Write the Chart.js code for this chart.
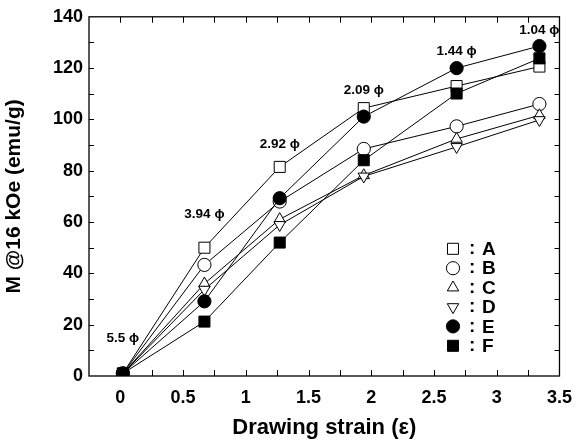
<!DOCTYPE html>
<html>
<head>
<meta charset="utf-8">
<script src="https://cdn.jsdelivr.net/npm/chart.js@4/dist/chart.umd.min.js"></script>
<style>
  body { margin: 0; background: #fff; }
  #wrap { width: 583px; height: 443px; }
</style>
</head>
<body>
<div id="wrap"><canvas id="magChart" width="583" height="443"></canvas></div>
<script>
// drawing strain values (x) shared by every sample
const strain = [0.02, 0.67, 1.27, 1.94, 2.68, 3.34];

// M @16 kOe for each sample (emu/g)
const seriesA = [1, 50, 81.5, 104.4, 113, 120.6];
const seriesB = [1, 43.3, 68, 88.5, 97.3, 106];
const seriesC = [1, 36, 61.1, 78.2, 92.4, 101.6];
const seriesD = [1, 33.7, 58.9, 77.8, 89.3, 99.8];
const seriesE = [1, 29.1, 69.3, 101.1, 120, 128.6];
const seriesF = [1, 21.2, 52, 84.1, 110.1, 123.8];

const sampleNames = ['A', 'B', 'C', 'D', 'E', 'F'];

// wire diameter labels written above each strain step, and the height they sit at
const phiLabels = ['5.5 \u03d5', '3.94 \u03d5', '2.92 \u03d5', '2.09 \u03d5', '1.44 \u03d5', '1.04 \u03d5'];
const phiLabelY = [14.7, 63, 90.5, 111.5, 126.4, 134.8];

const xTicks = [0, 0.5, 1, 1.5, 2, 2.5, 3, 3.5];
const yTicks = [0, 20, 40, 60, 80, 100, 120, 140];

const FONT = '"Liberation Sans", Arial, sans-serif';

function toPoints(vals) {
    return vals.map((v, i) => ({ x: strain[i], y: v }));
}

function makeSet(label, vals, style, filled, rotation, order) {
    return {
        label: label,
        data: toPoints(vals),
        borderColor: '#000',
        borderWidth: 1,
        pointStyle: style,
        pointRotation: rotation || 0,
        pointRadius: style === 'rect' ? 7.8 : 6.6,
        pointBorderWidth: 1,
        pointBorderColor: '#000',
        pointBackgroundColor: filled ? '#000' : '#fff',
        showLine: true,
        tension: 0,
        order: order
    };
}

// later samples drawn on top, like the original
const datasets = [
    makeSet(sampleNames[0], seriesA, 'rect', false, 0, 5),
    makeSet(sampleNames[1], seriesB, 'circle', false, 0, 4),
    makeSet(sampleNames[2], seriesC, 'triangle', false, 0, 3),
    makeSet(sampleNames[3], seriesD, 'triangle', false, 180, 2),
    makeSet(sampleNames[4], seriesE, 'circle', true, 0, 1),
    makeSet(sampleNames[5], seriesF, 'rect', true, 0, 0)
];

// frame, inward tick marks, phi labels and the legend box
const decorations = {
    id: 'decorations',
    afterDatasetsDraw(chart) {
        const ctx = chart.ctx;
        const area = chart.chartArea;
        const xs = chart.scales.x;
        const ys = chart.scales.y;
        ctx.save();
        ctx.strokeStyle = '#000';
        ctx.lineWidth = 1.3;
        ctx.strokeRect(area.left, area.top, area.right - area.left, area.bottom - area.top);

        ctx.lineWidth = 1;
        ctx.beginPath();
        for (let v = 0; v <= 3.5001; v += 0.25) {
            const px = Math.round(xs.getPixelForValue(v)) + 0.5;
            ctx.moveTo(px, area.bottom);
            ctx.lineTo(px, area.bottom - 6);
            ctx.moveTo(px, area.top);
            ctx.lineTo(px, area.top + 6);
        }
        for (let v = 10; v < 140; v += 10) {
            const py = Math.round(ys.getPixelForValue(v)) + 0.5;
            ctx.moveTo(area.left, py);
            ctx.lineTo(area.left + 5, py);
            ctx.moveTo(area.right, py);
            ctx.lineTo(area.right - 5, py);
        }
        ctx.stroke();

        // phi labels
        ctx.fillStyle = '#000';
        ctx.font = 'bold 13.5px ' + FONT;
        ctx.textAlign = 'center';
        ctx.textBaseline = 'middle';
        phiLabels.forEach((t, i) => {
            ctx.fillText(t, xs.getPixelForValue(strain[i]), ys.getPixelForValue(phiLabelY[i]));
        });

        // legend inside the plot
        const lx = area.left + 364;
        const ly0 = area.top + 232;
        ctx.font = 'bold 19px ' + FONT;
        ctx.textAlign = 'left';
        chart.data.datasets.forEach((ds, i) => {
            const cy = ly0 + i * 19.4;
            ctx.lineWidth = 1;
            ctx.strokeStyle = '#000';
            ctx.fillStyle = ds.pointBackgroundColor;
            Chart.helpers.drawPoint(ctx, {
                pointStyle: ds.pointStyle,
                rotation: ds.pointRotation,
                radius: ds.pointRadius,
                borderWidth: 1
            }, lx, cy);
            ctx.fillStyle = '#000';
            ctx.fillText(':', lx + 16, cy);
            ctx.fillText(ds.label, lx + 29, cy + 1);
        });
        ctx.restore();
    }
};

new Chart(document.getElementById('magChart'), {
    type: 'scatter',
    data: { datasets: datasets },
    options: {
        responsive: false,
        animation: false,
        layout: { padding: { left: 0, top: 15, right: 13, bottom: 0 } },
        plugins: {
            legend: { display: false },
            tooltip: { enabled: false }
        },
        scales: {
            x: {
                type: 'linear',
                min: -0.25,
                max: 3.5,
                afterBuildTicks(scale) {
                    scale.ticks = xTicks.map(v => ({ value: v }));
                },
                afterFit(scale) { scale.height = 67; },
                grid: { display: false, drawTicks: false, tickLength: 0 },
                border: { display: false },
                ticks: {
                    padding: 11,
                    color: '#000',
                    font: { family: FONT, size: 18, weight: 'bold' },
                    maxRotation: 0,
                    autoSkip: false,
                    callback: v => String(v)
                },
                title: {
                    display: true,
                    text: 'Drawing strain (\u03b5)',
                    color: '#000',
                    font: { family: FONT, size: 22, weight: 'bold' },
                    padding: { top: 0, bottom: 2 }
                }
            },
            y: {
                type: 'linear',
                min: 0,
                max: 140,
                afterBuildTicks(scale) {
                    scale.ticks = yTicks.map(v => ({ value: v }));
                },
                afterFit(scale) { scale.width = 89; },
                grid: { display: false, drawTicks: false, tickLength: 0 },
                border: { display: false },
                ticks: {
                    padding: 6,
                    color: '#000',
                    font: { family: FONT, size: 18, weight: 'bold' },
                    autoSkip: false
                },
                title: {
                    display: true,
                    text: 'M @16 kOe (emu/g)',
                    color: '#000',
                    font: { family: FONT, size: 21, weight: 'bold' },
                    padding: { top: 2, bottom: 0 }
                }
            }
        }
    },
    plugins: [decorations]
});
</script>
</body>
</html>
